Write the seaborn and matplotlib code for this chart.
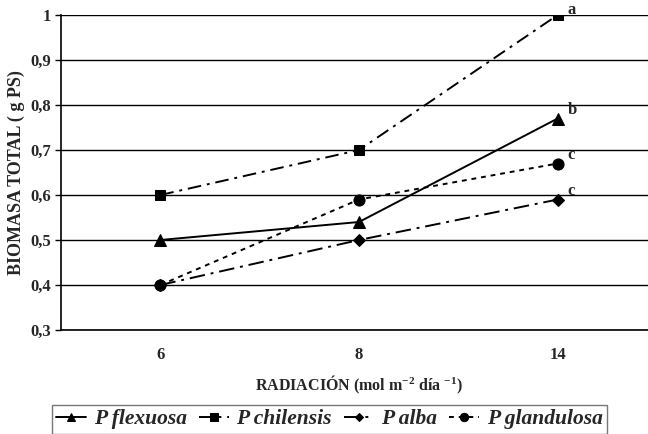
import matplotlib
matplotlib.use("Agg")
import matplotlib.pyplot as plt
import seaborn as sns
import pandas as pd
import numpy as np

categories = ["6", "8", "14"]
series_names = ["P flexuosa", "P chilensis", "P alba", "P glandulosa"]
flexuosa = [0.50, 0.54, 0.77]
chilensis = [0.60, 0.70, 1.00]
alba = [0.40, 0.50, 0.59]
glandulosa = [0.40, 0.59, 0.67]
letters = ["b", "a", "c", "c"]
y_ticks = [0.3, 0.4, 0.5, 0.6, 0.7, 0.8, 0.9, 1.0]

sns.set_theme(style="white")
plt.rcParams['font.family'] = ['Liberation Serif', 'DejaVu Serif']
plt.rcParams['font.weight'] = 'bold'
plt.rcParams['mathtext.fontset'] = 'custom'
plt.rcParams['mathtext.rm'] = 'Liberation Serif:bold'
plt.rcParams['mathtext.default'] = 'rm'

values = [flexuosa, chilensis, alba, glandulosa]
rows = []
for name, vals in zip(series_names, values):
    for i, v in enumerate(vals):
        rows.append({"x": i, "y": v, "serie": name})
df = pd.DataFrame(rows)

fig = plt.figure(figsize=(6.48, 4.34), dpi=100)
ax = fig.add_axes([61/648, 1 - 330/434, 596/648, 315/434])

markers = {"P flexuosa": "^", "P chilensis": "s", "P alba": "D", "P glandulosa": "o"}
dashes = {"P flexuosa": "",
          "P chilensis": (7, 3, 1.5, 3),
          "P alba": (8, 3, 1.5, 3),
          "P glandulosa": (2.5, 2.5)}
msize = {"P flexuosa": 8, "P chilensis": 7, "P alba": 6, "P glandulosa": 8}

for name in series_names:
    sub = df[df.serie == name]
    sns.lineplot(data=sub, x="x", y="y", ax=ax, color="black", linewidth=1.4,
                 marker=markers[name], markersize=msize[name],
                 markeredgecolor="black", markerfacecolor="black",
                 dashes=False, label=name, legend=False)
    ln = ax.lines[-1]
    if dashes[name]:
        ln.set_dashes(dashes[name])

for name, vals, let in zip(series_names, values, letters):
    dy = 0.018 if let != "a" else 0.012
    ax.text(2.05, vals[-1] + dy, let, fontsize=12, fontweight="bold",
            ha="left", va="center", clip_on=False)

ax.set_xlim(-0.5, 2.5)
ax.set_ylim(0.3, 1.0)
ax.set_yticks(y_ticks)
ax.set_yticklabels([("%g" % t).replace(".", ",") for t in y_ticks], fontsize=12, fontweight="bold")
ax.set_xticks([0, 1, 2])
ax.set_xticklabels(categories, fontsize=12, fontweight="bold")
ax.set_xticks([0.5, 1.5], minor=True)
ax.tick_params(axis="x", which="major", length=0, pad=12)
ax.tick_params(axis="x", which="minor", length=4, width=1, color="black", direction="in")
ax.tick_params(axis="y", which="major", length=4, width=1, color="black", direction="out", left=True, pad=3)
ax.grid(axis="y", color="black", linewidth=1)
ax.set_axisbelow(True)
for s in ["top", "right"]:
    ax.spines[s].set_visible(False)
for s in ["left", "bottom"]:
    ax.spines[s].set_color("black")
    ax.spines[s].set_linewidth(1.2)

ax.set_ylabel("BIOMASA TOTAL ( g PS)", fontsize=13, fontweight="bold", labelpad=4)
ax.set_xlabel("RADIACIÓN (mol m$^{-2}$ día $^{-1}$)", fontsize=11.5, fontweight="bold", labelpad=8)

handles = ax.lines[:4]
leg = fig.legend(handles, series_names, loc="upper left", bbox_to_anchor=(52/648, 1 - 405/434),
                 ncol=4, frameon=True, fancybox=False, edgecolor="#555555",
                 prop={"family": "Liberation Serif", "style": "italic", "weight": "bold", "size": 15.5},
                 handlelength=1.4, handletextpad=0.35, columnspacing=0.55, borderpad=0.2,
                 borderaxespad=0, markerscale=0.75)
leg.get_frame().set_linewidth(1)

fig.savefig("out.png", dpi=100)
